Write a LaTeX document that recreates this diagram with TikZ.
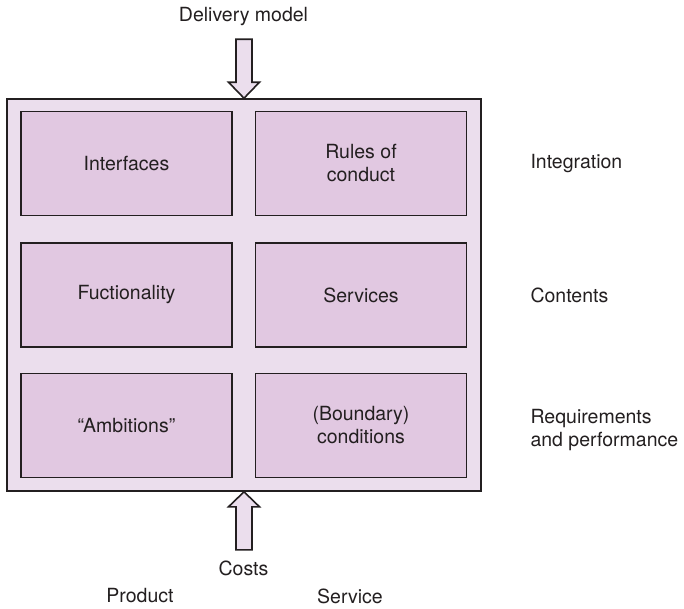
\documentclass[tikz,border=0pt]{standalone}
\usepackage{fontspec}
\setmainfont{TeX Gyre Heros}
\definecolor{ink}{RGB}{35,31,32}
\definecolor{outerpink}{RGB}{235,222,237}
\definecolor{innerpink}{RGB}{225,200,225}
\tikzset{
  txt/.style={text=ink, font=\fontsize{19.5}{23}\selectfont, align=center},
  cell/.style={txt, rectangle, draw=ink, line width=1.6pt, fill=innerpink,
    minimum width=211pt, minimum height=104pt},
  sidetext/.style={txt, anchor=west, align=left},
  blockarrow/.style={draw=ink, line width=1.6pt, fill=outerpink, line join=miter}
}
\begin{document}
\begin{tikzpicture}[x=1pt,y=-1pt]
            \useasboundingbox (0,0) rectangle (684,608);
            % outer frame
            \node[rectangle, draw=ink, line width=1.6pt, fill=outerpink,
                  minimum width=474pt, minimum height=392pt] (frame) at (244,295) {};
            
            % six boxes, two columns three rows
            \foreach \boxname/\xpos/\ypos/\boxtext in {
                interfaces/126.5/163.5/Interfaces,
                rules/361/163.5/{Rules of\\conduct},
                functionality/126.5/295/Fuctionality,
                services/361/295/Services,
                ambitions/126.5/425.5/“Ambitions”,
                conditions/361/425.5/{(Boundary)\\conditions}}
                \node[cell] (\boxname) at (\xpos,\ypos) {\boxtext};
            
            % row labels on the right
            \node[sidetext] (integration) at (527,163.5) {Integration};
            \node[sidetext] (contents) at (527,295) {Contents};
            \node[sidetext] (requirements) at (527,430) {Requirements\\and performance};
            
            % inputs from above and below
            \node[txt] (delivery) at (243.5,17) {Delivery model};
            \node[txt] (costs) at (243.5,568) {Costs};
            \draw[blockarrow] (frame.north) -- ++(-15.5,-16) -- ++(7.5,0) -- ++(0,-43)
                -- ++(16,0) -- ++(0,43) -- ++(7.5,0) -- cycle;
            \draw[blockarrow] (frame.south) -- ++(-15.5,15) -- ++(7.5,0) -- ++(0,43)
                -- ++(16,0) -- ++(0,-43) -- ++(7.5,0) -- cycle;
            
            % column labels
            \node[txt] (product) at (140,596) {Product};
            \node[txt] (service) at (350,596) {Service};
        \end{tikzpicture}
\end{document}
